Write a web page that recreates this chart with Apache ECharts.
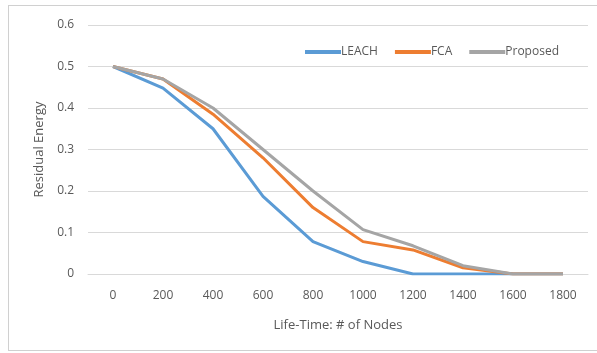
<!DOCTYPE html>
<html>
<head>
<meta charset="utf-8">
<script src="https://cdn.jsdelivr.net/npm/echarts@6/dist/echarts.min.js"></script>
<style>
  html, body { margin: 0; padding: 0; background: #fff; }
  #frame {
    position: absolute; left: 8px; top: 5px; width: 600px; height: 346px;
    border: 1px solid #d0d0d0; box-sizing: border-box;
  }
  #chart { position: absolute; left: 0; top: 0; width: 597px; height: 353px; }
</style>
</head>
<body>
<div id="frame"></div>
<div id="chart"></div>
<script>
// 数据
const lifeTimes = ['0', '200', '400', '600', '800', '1000', '1200', '1400', '1600', '1800']
const leach = [0.5, 0.448, 0.35, 0.187, 0.078, 0.03, 0, 0, 0, 0]
const fca = [0.5, 0.47, 0.385, 0.28, 0.16, 0.078, 0.058, 0.015, 0, 0]
const proposed = [0.5, 0.47, 0.40, 0.30, 0.20, 0.107, 0.068, 0.02, 0, 0]

const chart = echarts.init(document.getElementById('chart'))

const font = 'Open Sans, Liberation Sans, sans-serif'
const textColor = '#595959'

const line = (name, color, data) => ({
  name,
  type: 'line',
  data,
  symbol: 'none',
  lineStyle: { color, width: 3 },
  itemStyle: { color }
})

chart.setOption({
  animation: false,
  legend: {
    top: 41,
    left: 300,
    itemWidth: 36,
    itemHeight: 4,
    itemGap: 17,
    icon: 'rect',
    textStyle: { color: textColor, fontSize: 12, fontFamily: font, padding: [0, 0, 0, -5] },
    data: ['LEACH', 'FCA', 'Proposed']
  },
  grid: { left: 88, right: 9, top: 25, bottom: 79 },
  xAxis: {
    type: 'category',
    data: lifeTimes,
    boundaryGap: true,
    name: 'Life-Time: # of Nodes',
    nameLocation: 'middle',
    nameGap: 45,
    nameTextStyle: { color: textColor, fontSize: 13, fontFamily: font },
    axisLine: { lineStyle: { color: '#d9d9d9' } },
    axisTick: { show: false },
    axisLabel: { color: textColor, fontSize: 12, fontFamily: font, margin: 16 }
  },
  yAxis: {
    type: 'value',
    min: 0,
    max: 0.6,
    interval: 0.1,
    name: 'Residual Energy',
    nameLocation: 'middle',
    nameGap: 37,
    nameTextStyle: { color: textColor, fontSize: 13, fontFamily: font },
    axisLine: { show: false },
    axisTick: { show: false },
    axisLabel: { color: textColor, fontSize: 12, fontFamily: font, margin: 14 },
    splitLine: { lineStyle: { color: '#d9d9d9' } }
  },
  series: [
    line('LEACH', '#5B9BD5', leach),
    line('FCA', '#ED7D31', fca),
    line('Proposed', '#A5A5A5', proposed)
  ]
})
</script>
</body>
</html>
